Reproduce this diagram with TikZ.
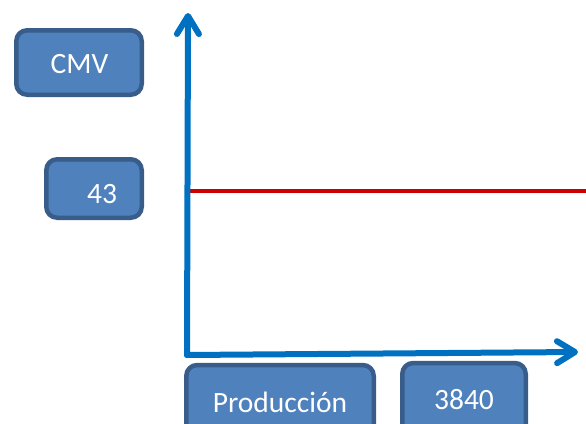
\documentclass[tikz,border=0pt]{standalone}
\usepackage{fontspec}
\setmainfont{Carlito}
\usetikzlibrary{arrows.meta}
\definecolor{boxfill}{HTML}{4F81BD}
\definecolor{boxline}{HTML}{385D8A}
\definecolor{axisblue}{HTML}{0070C0}
\definecolor{levelred}{HTML}{CC0000}
\begin{document}
\begin{tikzpicture}[x=1pt,y=-1pt,
  boxst/.style={draw=boxline,fill=boxfill,line width=4.5pt,rounded corners=11pt,inner sep=0pt},
  txt/.style={text=white,font=\fontsize{29.5}{31}\selectfont,anchor=base,inner sep=0pt},
  axis/.style={draw=axisblue,line width=6pt,line cap=round,line join=round,
    -{Straight Barb[length=18pt,width=22pt,round]}},
  level/.style={draw=levelred,line width=4pt}]
\useasboundingbox (0,0) rectangle (586,423);
\clip (0,0) rectangle (586,423);
% boxes
\node[boxst,minimum width=125.5pt,minimum height=64.5pt] (bcmv) at (79,62.5) {};
\node[txt] (tcmv) at (79.5,73.5) {CMV};
\node[boxst,minimum width=95.5pt,minimum height=58.5pt] (b43) at (94,188.5) {};
\node[txt] (t43) at (102,203.5) {43};
\node[boxst,minimum width=187.5pt,minimum height=70pt] (bprod) at (280,400) {};
\node[txt] (tprod) at (280,412.5) {Producción};
\node[boxst,minimum width=123.5pt,minimum height=72pt] (b3840) at (464,399) {};
\node[txt] (t3840) at (464,409.5) {3840};
% axes
\coordinate (o) at (187,355);
\coordinate (ytop) at (188,13);
\coordinate (xend) at (578,352);
\coordinate (l1) at (189,191);
\coordinate (l2) at (586,191);
\draw[level] (l1) -- (l2);
\draw[axis] (o) -- (ytop);
\draw[axis] (o) -- (xend);
\end{tikzpicture}
\end{document}
